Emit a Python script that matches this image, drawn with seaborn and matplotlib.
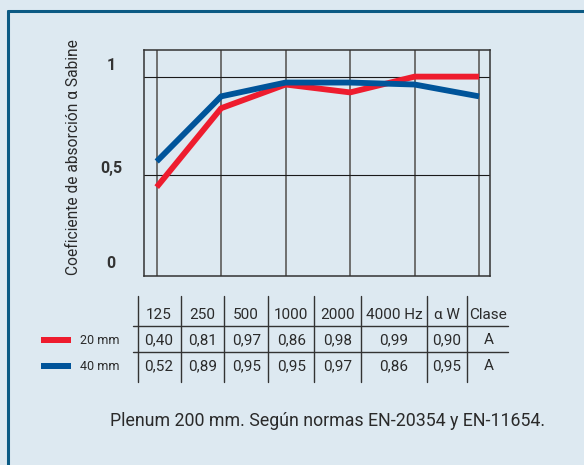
import matplotlib
matplotlib.use("Agg")
import matplotlib.pyplot as plt
import pandas as pd
import seaborn as sns
from matplotlib.lines import Line2D

# Data
freqs = ['125', '250', '500', '1000', '2000', '4000']
alpha_20 = [0.44, 0.84, 0.96, 0.92, 1.00, 1.00]
alpha_40 = [0.57, 0.90, 0.97, 0.97, 0.96, 0.90]
header = ['125', '250', '500', '1000', '2000', '4000 Hz', 'α W', 'Clase']
row_20 = ['0,40', '0,81', '0,97', '0,86', '0,98', '0,99', '0,90', 'A']
row_40 = ['0,52', '0,89', '0,95', '0,95', '0,97', '0,86', '0,95', 'A']
series = ['20 mm', '40 mm']

W, H = 584, 465
bg = '#dde9f1'
red = '#ee1c2e'
blue = '#00549a'
ink = '#2a2a2a'

sns.set_theme(style='white')
plt.rcParams['font.family'] = ['Roboto', 'DejaVu Sans']

df = pd.DataFrame({
    'freq': list(range(len(freqs))) * 2,
    'alpha': alpha_20 + alpha_40,
    'serie': [series[0]] * len(freqs) + [series[1]] * len(freqs),
})

fig = plt.figure(figsize=(W / 100, H / 100), dpi=100, facecolor=bg)


def px(x, y):
    return x / W, 1 - y / H


# plot area
l, t, r, b = 144, 50, 490, 275.6
ax = fig.add_axes([l / W, 1 - b / H, (r - l) / W, (b - t) / H])
ax.set_facecolor(bg)
for x in range(len(freqs)):
    ax.axvline(x, color='#6f6f6f', lw=1.4, zorder=1)
for y in [0.5, 1.0]:
    ax.axhline(y, color='#1a1a1a', lw=0.8, zorder=1)
sns.lineplot(data=df, x='freq', y='alpha', hue='serie',
             palette=[red, blue], linewidth=4.2, legend=False, ax=ax,
             zorder=3, solid_capstyle='butt')
ax.set_xlim(-0.197, 5.17)
ax.set_ylim(-0.0086, 1.135)
ax.set_xticks([])
ax.set_yticks([])
ax.set_xlabel('')
ax.set_ylabel('')
for s in ax.spines.values():
    s.set_color('#333333')
    s.set_linewidth(1.1)

# y tick labels
for lab, yy in [('1', 66), ('0,5', 168), ('0', 264)]:
    fig.text(*px(111, yy), lab, ha='center', va='center', fontsize=11.5,
             fontweight='bold', color='#333333')
fig.text(*px(73, 157), 'Coeficiente de absorción α Sabine', rotation=90,
         ha='center', va='center', fontsize=11.2, color=ink)

# table
vlines = [138.3, 181, 224, 268.3, 314.3, 361, 426.7, 466.7]
for xv in vlines:
    fig.add_artist(Line2D([xv / W] * 2, [1 - 296 / H, 1 - 382 / H],
                          color='#333333', lw=1.0))
for yh in [326, 352]:
    fig.add_artist(Line2D([133 / W, 508 / W], [1 - yh / H] * 2,
                          color='#333333', lw=1.0))
edges = vlines + [510]
centers = [(edges[i] + edges[i + 1]) / 2 for i in range(len(header))]
centers[0] = 159
for row, yy in [(header, 315), (row_20, 340), (row_40, 366)]:
    for c, txt in zip(centers, row):
        fig.text(*px(c, yy), txt, ha='center', va='center', fontsize=11,
                 color=ink)

# legend swatches
for name, col, yy in [(series[0], red, 340), (series[1], blue, 366)]:
    fig.add_artist(plt.Rectangle(px(40.7, yy + 3), 30 / W, 6 / H,
                                 color=col, lw=0))
    fig.text(*px(100, yy), name, ha='center', va='center', fontsize=9,
             color=ink)

fig.text(*px(327.5, 421), 'Plenum 200 mm. Según normas EN-20354 y EN-11654.',
         ha='center', va='center', fontsize=12.8, color=ink)

# frame: top and left border
fig.add_artist(Line2D([8 / W, 1], [1 - 11 / H] * 2, color='#0b5a84', lw=2.2))
fig.add_artist(Line2D([8 / W] * 2, [0, 1 - 11 / H], color='#0b5a84', lw=2.2))

fig.savefig('out.png', dpi=100, facecolor=bg)
